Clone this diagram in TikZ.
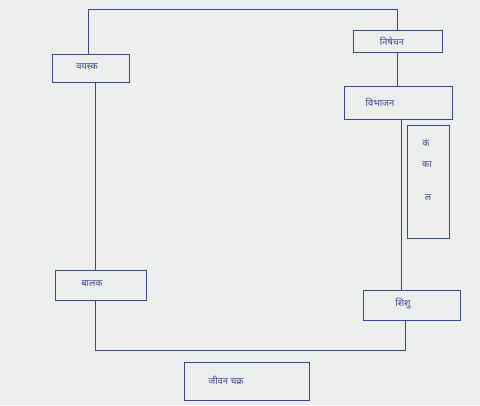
\documentclass[tikz,border=0pt]{standalone}
\usepackage{fontspec}
\newfontfamily\deva[Script=Devanagari]{Noto Sans}
\definecolor{paper}{HTML}{ECEEEC}
\definecolor{ink}{HTML}{3C4496}
\tikzset{
  inkline/.style={draw=ink, line width=0.7pt},
  box/.style={inkline, rectangle, inner sep=0pt, font=\deva\fontsize{7}{8}\selectfont, text=ink},
  lbl/.style={font=\deva\fontsize{7}{8}\selectfont, text=ink, inner sep=0pt},
}
\begin{document}
\begin{tikzpicture}[x=0.75pt,y=-0.75pt]
\fill[paper] (0,0) rectangle (480,405);
\useasboundingbox (0,0) rectangle (480,405);
% boxes
\node[box, minimum width=66.75pt, minimum height=16.5pt] (nishe) at (397.5,41) {};
\node[lbl] (nisheT) at (392,41) {निषेचन};
\node[box, minimum width=81pt, minimum height=24.75pt] (vibh) at (398,102.5) {};
\node[lbl] (vibhT) at (380,102) {विभाजन};
\node[box, minimum width=31.5pt, minimum height=84.75pt] (tall) at (428,181.5) {};
\node[lbl] (tall1) at (426,143) {कं};
\node[lbl] (tall2) at (427,165) {का};
\node[lbl] (tall3) at (428,198) {ल};
\node[box, minimum width=72.75pt, minimum height=22.5pt] (br) at (411.5,305) {};
\node[lbl] (brT) at (403,304) {शिशु};
\node[box, minimum width=68.25pt, minimum height=22.5pt] (lb) at (100.5,285) {};
\node[lbl] (lbT) at (92,284) {बालक};
\node[box, minimum width=57.75pt, minimum height=21pt] (lt) at (90.5,68) {};
\node[lbl] (ltT) at (87,67) {वयस्क};
\node[box, minimum width=93.75pt, minimum height=28.5pt] (title) at (246.5,381) {};
\node[lbl] (titleT) at (226,380) {जीवन चक्र};
% connector coordinates
\coordinate (tl) at (88,9);
\coordinate (tr) at (397,9);
\coordinate (rv) at (401,0);
\coordinate (bl) at (95,350);
\coordinate (brc) at (405,350);
% connectors
\draw[inkline] (lt.north -| tl) -- (tl) -- (tr) -- (tr |- nishe.north);
\draw[inkline] (nishe.south) -- (nishe.south |- vibh.north);
\draw[inkline] (vibh.south -| rv) -- (br.north -| rv);
\draw[inkline] (br.south -| brc) -- (brc) -- (bl) -- (lb.south -| bl);
\draw[inkline] (lb.north -| bl) -- (lt.south -| bl);
\end{tikzpicture}
\end{document}
